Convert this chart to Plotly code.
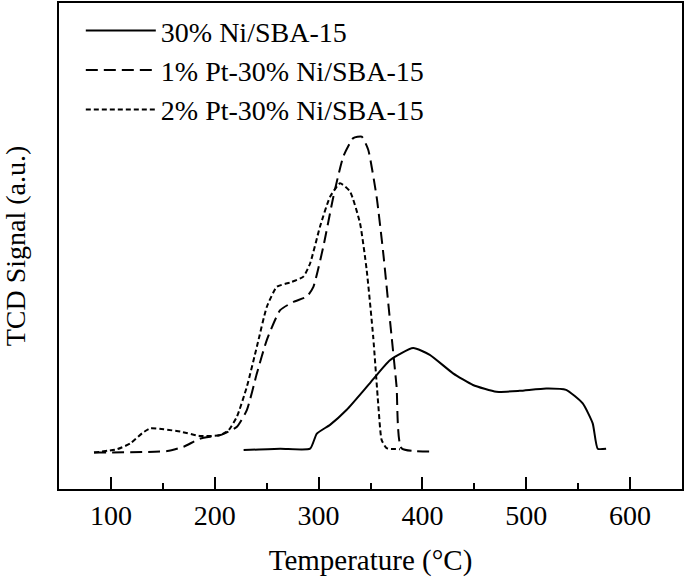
import plotly.graph_objects as go

# 30% Ni/SBA-15 (solid)
ni_temp = [227.8, 263.0, 291.8, 298.3, 311.0, 327.1, 349.5, 368.7, 391.1, 407.1, 429.5, 448.7, 471.2, 493.6, 519.2, 538.4, 554.4, 564.0, 568.8, 576.9]
ni_signal = [8.0, 8.3, 8.3, 11.4, 13.2, 16.3, 21.8, 26.5, 29.0, 27.6, 23.8, 21.4, 20.0, 20.2, 20.7, 20.4, 17.6, 13.5, 8.3, 8.3]

# 1% Pt-30% Ni/SBA-15 (dashed)
pt1_temp = [83.7, 154.2, 170.1, 186.2, 205.4, 221.4, 231.0, 240.6, 250.2, 263.0, 275.8, 288.7, 295.0, 304.6, 314.2, 323.8, 333.4, 341.5, 347.8, 355.9, 362.3, 368.7, 375.1, 379.9, 411.9]
pt1_signal = [7.5, 7.8, 8.7, 10.4, 11.1, 12.8, 16.3, 23.8, 30.7, 36.8, 38.5, 39.6, 41.6, 49.9, 60.1, 68.4, 72.2, 72.5, 69.8, 60.1, 48.5, 34.8, 21.1, 8.4, 7.7]

# 2% Pt-30% Ni/SBA-15 (short dashed)
pt2_temp = [83.7, 106.1, 118.9, 130.2, 138.1, 150.9, 167.0, 186.2, 205.4, 213.4, 221.4, 231.0, 240.6, 250.2, 259.8, 272.6, 285.4, 291.8, 301.4, 311.0, 320.7, 330.3, 339.9, 346.3, 352.6, 357.4, 360.7, 365.5, 378.3]
pt2_signal = [7.5, 8.2, 9.4, 11.5, 12.5, 12.3, 11.8, 10.9, 11.1, 12.1, 14.9, 21.1, 29.3, 37.5, 41.6, 42.5, 43.7, 46.4, 54.0, 60.1, 62.9, 61.2, 54.7, 45.1, 31.3, 17.6, 10.1, 8.4, 8.2]

series_names = ["30% Ni/SBA-15", "1% Pt-30% Ni/SBA-15", "2% Pt-30% Ni/SBA-15"]
x_tick_vals = [100, 200, 300, 400, 500, 600]

FONT = "Liberation Serif"

fig = go.Figure()
fig.add_trace(go.Scatter(x=ni_temp, y=ni_signal, mode="lines", name=series_names[0],
                         line=dict(color="black", width=2, shape="spline", smoothing=0.5)))
fig.add_trace(go.Scatter(x=pt1_temp, y=pt1_signal, mode="lines", name=series_names[1],
                         line=dict(color="black", width=2, dash="12px,6px", shape="spline", smoothing=0.5)))
fig.add_trace(go.Scatter(x=pt2_temp, y=pt2_signal, mode="lines", name=series_names[2],
                         line=dict(color="black", width=2, dash="5px,3px", shape="spline", smoothing=0.5)))

fig.update_layout(
    width=685, height=581,
    margin=dict(l=59, r=3, t=3, b=92),
    paper_bgcolor="white", plot_bgcolor="white",
    font=dict(family=FONT, size=28, color="black"),
    showlegend=True,
    legend=dict(x=0.035, y=0.994, xanchor="left", yanchor="top",
                bgcolor="rgba(0,0,0,0)", borderwidth=0,
                font=dict(family=FONT, size=28, color="black"),
                itemwidth=70, tracegroupgap=0),
)
fig.update_xaxes(
    range=[50, 650], tickvals=x_tick_vals, ticks="inside", ticklen=12, tickwidth=2,
    tickcolor="black", showline=True, linecolor="black", linewidth=2, mirror=True,
    showgrid=False, zeroline=False, automargin=False,
    tickfont=dict(family=FONT, size=28, color="black"),
    minor=dict(ticks="inside", ticklen=6, tickwidth=2, tickcolor="black", dtick=50, tick0=50, showgrid=False),
    title=dict(text="Temperature (°C)", font=dict(family=FONT, size=29, color="black"), standoff=20),
)
fig.update_yaxes(
    range=[0, 100], showticklabels=False, ticks="", showline=True, linecolor="black",
    linewidth=2, mirror=True, showgrid=False, zeroline=False, automargin=False,
    title=dict(text="TCD Signal (a.u.)", font=dict(family=FONT, size=28, color="black"), standoff=34),
)

fig.write_html(
    "out.html",
    config={"displayModeBar": False},
    post_script="document.body.style.margin='0';document.body.style.overflow='hidden';",
)
